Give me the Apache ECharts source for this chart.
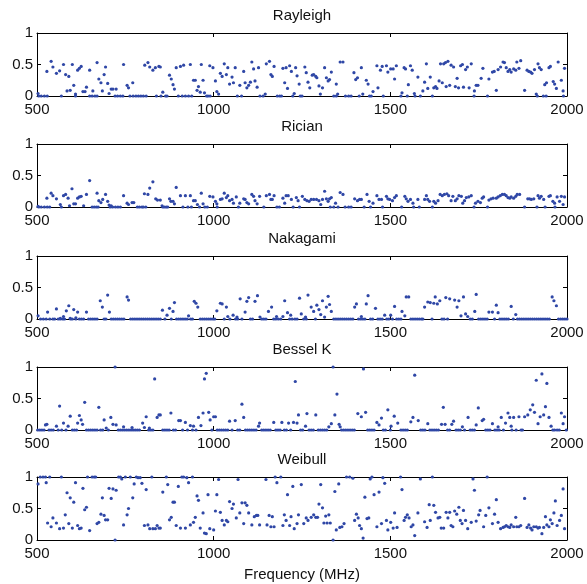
<!DOCTYPE html>
<html>
<head>
<meta charset="utf-8">
<script src="https://cdn.jsdelivr.net/npm/echarts@6/dist/echarts.min.js"></script>
<style>html,body{margin:0;padding:0;background:#fff}#c{width:587px;height:584px}</style>
</head>
<body>
<div id="c"></div>
<script>
const panelTitles = ['Rayleigh', 'Rician', 'Nakagami', 'Bessel K', 'Weibull'];
const xTicks = [500, 1000, 1500, 2000];
const yTicks = [0, 0.5, 1];
const xAxisName = 'Frequency (MHz)';

// [frequency MHz, value]
const rayleighPts = [[503,0.04],[528,0.39],[540,0.55],[545,0.46],[555,0.36],[564,0.40],[575,0.50],[581,0.34],[585,0.08],[590,0.31],[594,0.09],[600,0.50],[604,0.17],[609,0.03],[615,0.41],[620,0.44],[625,0.47],[630,0.07],[636,0.07],[640,0.14],[649,0.41],[658,0.08],[670,0.53],[675,0.27],[681,0.21],[685,0.08],[690,0.34],[694,0.46],[700,0.20],[704,0.04],[710,0.11],[715,0.11],[724,0.11],[745,0.50],[755,0.17],[759,0.13],[771,0.21],[805,0.49],[814,0.53],[819,0.46],[828,0.41],[835,0.45],[845,0.47],[849,0.46],[856,0.06],[875,0.33],[880,0.27],[885,0.18],[889,0.11],[894,0.45],[906,0.47],[915,0.49],[934,0.50],[943,0.25],[948,0.25],[953,0.09],[957,0.15],[962,0.06],[965,0.50],[970,0.25],[974,0.05],[989,0.48],[998,0.45],[1005,0.24],[1009,0.07],[1014,0.03],[1019,0.36],[1024,0.31],[1030,0.51],[1036,0.34],[1040,0.45],[1045,0.19],[1052,0.30],[1056,0.21],[1061,0.45],[1074,0.17],[1085,0.39],[1089,0.21],[1094,0.13],[1099,0.17],[1104,0.22],[1108,0.54],[1113,0.43],[1117,0.24],[1123,0.14],[1127,0.45],[1146,0.03],[1149,0.51],[1158,0.55],[1162,0.34],[1166,0.31],[1171,0.47],[1196,0.44],[1201,0.21],[1205,0.45],[1209,0.12],[1215,0.48],[1220,0.39],[1228,0.04],[1232,0.45],[1236,0.32],[1242,0.19],[1258,0.46],[1262,0.37],[1267,0.22],[1272,0.13],[1279,0.33],[1283,0.34],[1289,0.31],[1292,0.29],[1298,0.16],[1302,0.03],[1308,0.13],[1314,0.45],[1319,0.29],[1324,0.24],[1328,0.26],[1333,0.38],[1347,0.19],[1351,0.03],[1358,0.54],[1366,0.54],[1397,0.37],[1402,0.26],[1407,0.29],[1418,0.45],[1422,0.03],[1432,0.25],[1437,0.19],[1451,0.07],[1462,0.48],[1465,0.13],[1472,0.41],[1477,0.47],[1489,0.48],[1493,0.38],[1501,0.43],[1508,0.43],[1512,0.27],[1517,0.48],[1533,0.05],[1539,0.45],[1543,0.43],[1551,0.18],[1557,0.48],[1562,0.41],[1568,0.04],[1578,0.30],[1592,0.08],[1597,0.22],[1602,0.51],[1606,0.12],[1613,0.30],[1623,0.13],[1628,0.15],[1632,0.12],[1638,0.24],[1642,0.51],[1647,0.21],[1651,0.51],[1656,0.53],[1658,0.15],[1663,0.55],[1668,0.17],[1672,0.49],[1679,0.46],[1684,0.15],[1689,0.28],[1693,0.13],[1699,0.48],[1704,0.50],[1707,0.14],[1713,0.42],[1718,0.46],[1723,0.13],[1729,0.51],[1738,0.08],[1743,0.17],[1748,0.17],[1757,0.28],[1762,0.44],[1779,0.27],[1789,0.38],[1794,0.39],[1800,0.09],[1805,0.42],[1812,0.46],[1819,0.54],[1823,0.53],[1828,0.45],[1833,0.39],[1838,0.42],[1842,0.38],[1849,0.43],[1855,0.41],[1858,0.54],[1864,0.44],[1869,0.56],[1880,0.09],[1887,0.41],[1892,0.39],[1897,0.38],[1901,0.36],[1908,0.42],[1913,0.03],[1918,0.51],[1922,0.45],[1927,0.42],[1937,0.18],[1942,0.21],[1949,0.45],[1953,0.47],[1961,0.23],[1965,0.19],[1970,0.12],[1975,0.54],[1984,0.25],[1989,0.08],[1993,0.44]];
const rayleighZeros = [505,512,521,529,569,609,649,656,664,670,721,728,736,743,763,772,780,787,794,801,809,838,851,864,868,900,911,920,929,938,980,984,990,1067,1079,1131,1140,1180,1187,1192,1224,1245,1250,1340,1347,1373,1382,1389,1412,1441,1446,1480,1530,1548,1570,1585,1619,1737,1775,1916,1933,1941,1990];

const ricianPts = [[503,0.01],[528,0.14],[540,0.22],[545,0.18],[555,0.13],[566,0.04],[575,0.18],[581,0.20],[588,0.14],[592,0.02],[599,0.29],[604,0.05],[609,0.05],[615,0.14],[620,0.16],[625,0.17],[632,0.02],[640,0.20],[649,0.42],[670,0.22],[675,0.10],[681,0.07],[686,0.12],[694,0.20],[700,0.09],[704,0.03],[710,0.02],[745,0.18],[755,0.06],[759,0.04],[769,0.07],[774,0.07],[804,0.21],[814,0.20],[819,0.30],[828,0.40],[836,0.13],[841,0.11],[849,0.11],[854,0.02],[875,0.13],[879,0.09],[885,0.09],[889,0.05],[894,0.31],[906,0.18],[920,0.18],[934,0.18],[943,0.10],[948,0.10],[954,0.04],[965,0.22],[970,0.05],[989,0.17],[998,0.16],[1005,0.09],[1009,0.05],[1019,0.12],[1024,0.13],[1030,0.22],[1036,0.15],[1040,0.18],[1045,0.10],[1052,0.12],[1056,0.06],[1064,0.16],[1074,0.06],[1085,0.13],[1089,0.12],[1094,0.07],[1099,0.05],[1108,0.20],[1113,0.17],[1117,0.10],[1123,0.05],[1130,0.17],[1149,0.18],[1158,0.20],[1162,0.12],[1166,0.12],[1171,0.18],[1196,0.14],[1201,0.06],[1205,0.18],[1211,0.18],[1220,0.12],[1234,0.15],[1239,0.10],[1251,0.17],[1258,0.12],[1264,0.10],[1270,0.09],[1276,0.12],[1283,0.12],[1291,0.12],[1298,0.10],[1303,0.04],[1308,0.12],[1314,0.25],[1319,0.13],[1324,0.09],[1328,0.13],[1333,0.15],[1345,0.06],[1358,0.23],[1366,0.20],[1399,0.13],[1407,0.10],[1413,0.12],[1418,0.12],[1434,0.20],[1440,0.09],[1451,0.06],[1462,0.18],[1468,0.12],[1475,0.12],[1489,0.17],[1493,0.13],[1498,0.12],[1506,0.10],[1512,0.15],[1517,0.18],[1541,0.17],[1545,0.13],[1550,0.09],[1557,0.12],[1564,0.06],[1578,0.12],[1597,0.12],[1602,0.18],[1606,0.12],[1611,0.09],[1623,0.09],[1628,0.06],[1635,0.10],[1641,0.20],[1647,0.18],[1653,0.20],[1660,0.21],[1665,0.18],[1672,0.10],[1677,0.17],[1684,0.10],[1689,0.13],[1694,0.18],[1701,0.17],[1705,0.06],[1710,0.10],[1715,0.15],[1722,0.16],[1729,0.18],[1741,0.06],[1748,0.09],[1755,0.07],[1760,0.14],[1764,0.16],[1779,0.11],[1785,0.13],[1791,0.14],[1800,0.14],[1805,0.16],[1811,0.18],[1817,0.20],[1823,0.20],[1828,0.18],[1833,0.15],[1838,0.14],[1842,0.16],[1849,0.14],[1855,0.17],[1859,0.20],[1866,0.20],[1889,0.13],[1894,0.13],[1899,0.12],[1906,0.13],[1918,0.18],[1922,0.14],[1927,0.17],[1934,0.12],[1949,0.17],[1953,0.18],[1960,0.09],[1965,0.06],[1972,0.16],[1979,0.09],[1984,0.17],[1989,0.04],[1993,0.16]];
const ricianZeros = [505,512,521,529,536,569,656,662,668,673,707,714,722,729,736,784,790,797,801,808,856,861,866,870,913,927,937,960,975,982,1010,1070,1142,1179,1186,1225,1243,1330,1340,1352,1372,1382,1389,1426,1444,1478,1532,1566,1582,1619,1737,1775,1880,1915,1938,1966];

const nakagamiPts = [[503,0.05],[530,0.11],[555,0.16],[566,0.01],[575,0.04],[583,0.13],[590,0.21],[594,0.01],[604,0.15],[610,0.02],[615,0.11],[640,0.11],[679,0.29],[685,0.19],[700,0.38],[705,0.11],[755,0.35],[759,0.30],[855,0.14],[868,0.06],[875,0.17],[885,0.12],[889,0.26],[929,0.05],[945,0.28],[950,0.25],[955,0.19],[1009,0.13],[1019,0.25],[1024,0.24],[1036,0.19],[1040,0.04],[1055,0.06],[1066,0.03],[1075,0.32],[1089,0.11],[1094,0.28],[1099,0.34],[1117,0.28],[1124,0.37],[1131,0.03],[1155,0.12],[1164,0.19],[1178,0.04],[1196,0.04],[1201,0.29],[1209,0.10],[1218,0.06],[1243,0.33],[1248,0.08],[1260,0.03],[1267,0.38],[1276,0.19],[1283,0.12],[1292,0.22],[1298,0.15],[1303,0.07],[1308,0.29],[1314,0.03],[1319,0.19],[1324,0.36],[1328,0.23],[1333,0.12],[1399,0.19],[1404,0.24],[1418,0.04],[1432,0.24],[1437,0.37],[1458,0.17],[1484,0.06],[1501,0.06],[1512,0.20],[1533,0.12],[1541,0.05],[1545,0.35],[1552,0.35],[1597,0.19],[1606,0.27],[1613,0.26],[1623,0.25],[1627,0.35],[1633,0.24],[1640,0.29],[1657,0.34],[1668,0.32],[1682,0.30],[1689,0.19],[1694,0.29],[1700,0.05],[1707,0.35],[1713,0.08],[1719,0.04],[1739,0.12],[1743,0.39],[1779,0.11],[1789,0.11],[1800,0.22],[1805,0.10],[1842,0.20],[1855,0.07],[1958,0.35],[1963,0.29],[1970,0.21]];
const nakagamiZeros = [510,518,526,536,545,550,560,566,573,578,595,600,610,620,626,632,646,652,658,664,670,690,695,710,716,722,728,734,740,746,765,771,777,783,789,795,801,807,813,819,825,831,837,843,849,862,880,895,901,907,913,919,925,935,940,962,968,974,980,986,992,998,1003,1030,1046,1062,1068,1080,1104,1110,1136,1142,1148,1170,1176,1183,1190,1215,1222,1230,1236,1255,1262,1288,1340,1346,1352,1358,1364,1370,1376,1382,1388,1394,1410,1416,1422,1428,1444,1450,1465,1471,1477,1490,1496,1506,1518,1524,1530,1558,1564,1570,1576,1582,1588,1592,1618,1646,1652,1662,1726,1732,1750,1756,1762,1768,1774,1795,1810,1816,1822,1828,1834,1848,1860,1866,1872,1878,1884,1890,1896,1902,1908,1914,1920,1926,1932,1938,1944,1950,1976,1982,1988,1994,2000];

const besselKPts = [[524,0.08],[528,0.09],[555,0.06],[564,0.38],[575,0.11],[588,0.06],[594,0.22],[615,0.11],[620,0.23],[625,0.16],[629,0.09],[635,0.44],[675,0.36],[690,0.16],[696,0.03],[709,0.20],[715,0.09],[721,1.00],[724,0.08],[745,0.05],[769,0.04],[799,0.11],[804,0.04],[809,0.21],[818,0.03],[833,0.81],[840,0.20],[845,0.24],[849,0.24],[879,0.27],[901,0.15],[906,0.15],[920,0.12],[934,0.07],[943,0.06],[957,0.20],[964,0.07],[970,0.27],[974,0.81],[979,0.90],[986,0.28],[990,0.16],[1000,0.21],[1005,0.21],[1045,0.14],[1061,0.15],[1080,0.41],[1085,0.20],[1127,0.06],[1130,0.11],[1170,0.12],[1193,0.12],[1212,0.11],[1226,0.12],[1231,0.77],[1236,0.11],[1240,0.24],[1260,0.06],[1264,0.26],[1289,0.24],[1326,0.05],[1333,0.10],[1338,1.00],[1343,0.24],[1349,0.57],[1355,0.09],[1358,0.05],[1408,0.26],[1418,0.21],[1424,0.97],[1430,0.28],[1462,0.12],[1468,0.08],[1475,0.19],[1493,0.32],[1502,0.06],[1511,0.22],[1521,0.11],[1558,0.13],[1564,0.20],[1569,0.87],[1579,0.15],[1606,0.10],[1645,0.09],[1650,0.36],[1655,0.09],[1674,0.09],[1679,0.14],[1704,0.05],[1720,0.20],[1743,0.08],[1749,0.35],[1760,0.15],[1764,0.17],[1789,0.10],[1805,0.05],[1814,0.20],[1826,0.11],[1833,0.27],[1838,0.20],[1842,0.06],[1849,0.20],[1864,0.21],[1880,0.21],[1889,0.24],[1896,0.32],[1903,0.40],[1908,0.28],[1913,0.79],[1918,0.10],[1924,0.21],[1929,0.89],[1934,0.24],[1939,0.37],[1943,0.74],[1949,0.20],[1955,0.06],[1984,0.27],[1989,0.10],[1993,0.21]];
const besselKZeros = [502,508,514,520,534,540,546,560,570,582,600,606,612,640,646,652,658,664,670,680,686,702,730,736,742,748,754,760,766,772,778,784,790,816,822,828,856,862,868,874,886,892,912,926,940,950,995,1010,1016,1022,1028,1034,1040,1052,1068,1074,1090,1096,1102,1108,1114,1120,1136,1142,1148,1154,1160,1176,1182,1188,1200,1206,1218,1246,1252,1270,1276,1282,1296,1302,1308,1314,1320,1362,1368,1374,1380,1386,1392,1398,1436,1442,1448,1454,1480,1486,1500,1530,1536,1542,1548,1586,1592,1598,1612,1618,1624,1630,1636,1662,1668,1686,1692,1698,1710,1726,1732,1738,1770,1776,1782,1796,1802,1808,1820,1844,1856,1870,1874,1960,1965,1972,1978,1998];

const weibullPts = [[503,0.89],[509,1.00],[517,1.00],[524,1.00],[526,0.91],[530,0.27],[536,1.00],[540,0.21],[545,0.35],[555,0.27],[564,0.18],[569,1.00],[575,0.19],[580,0.40],[585,0.75],[590,0.26],[594,0.67],[600,0.19],[604,0.60],[609,0.91],[615,0.23],[620,0.18],[625,0.19],[630,0.82],[635,0.48],[640,0.52],[643,1.00],[649,0.15],[656,1.00],[662,1.00],[666,1.00],[670,0.26],[675,0.28],[681,0.41],[685,0.67],[690,0.39],[694,0.32],[700,0.32],[704,0.82],[710,0.66],[715,0.81],[721,0.00],[724,0.79],[731,1.00],[736,1.00],[740,0.97],[745,0.24],[750,1.00],[755,0.40],[759,0.50],[764,1.00],[771,0.67],[775,0.89],[781,1.00],[786,0.99],[792,0.99],[797,0.90],[804,0.23],[809,0.80],[814,0.24],[819,0.18],[825,1.00],[828,0.18],[835,0.18],[840,0.23],[845,0.19],[849,0.19],[856,0.76],[866,1.00],[870,0.88],[875,0.32],[880,0.36],[885,0.60],[889,0.60],[894,0.23],[900,0.85],[906,0.19],[910,1.00],[915,1.00],[920,0.19],[924,0.99],[929,0.91],[934,0.24],[940,1.00],[943,0.28],[948,0.36],[953,0.70],[957,0.63],[962,0.19],[970,0.43],[974,0.11],[979,0.10],[984,0.72],[989,0.18],[1000,0.16],[1005,0.46],[1009,0.72],[1014,0.96],[1019,0.44],[1024,0.31],[1030,0.24],[1036,0.31],[1040,0.29],[1045,0.61],[1052,0.50],[1056,0.57],[1064,0.35],[1069,0.96],[1074,0.43],[1080,0.59],[1085,0.26],[1089,0.59],[1094,0.55],[1099,0.43],[1108,0.24],[1115,0.37],[1121,0.39],[1125,0.39],[1130,0.24],[1148,0.96],[1151,0.24],[1157,0.39],[1162,0.21],[1166,0.37],[1171,0.21],[1174,1.00],[1179,0.91],[1190,1.00],[1196,0.23],[1200,0.40],[1205,0.31],[1209,0.72],[1215,0.23],[1219,0.37],[1224,0.85],[1228,0.18],[1236,0.26],[1240,0.40],[1248,0.88],[1255,0.26],[1262,0.35],[1267,0.31],[1276,0.36],[1283,0.40],[1289,0.36],[1294,0.36],[1298,0.57],[1303,0.88],[1308,0.51],[1312,0.27],[1317,0.38],[1321,0.27],[1326,0.40],[1330,0.27],[1338,0.00],[1343,0.77],[1347,0.16],[1354,0.89],[1357,0.20],[1363,0.21],[1369,0.26],[1376,1.00],[1385,1.00],[1394,0.98],[1399,0.31],[1404,0.41],[1409,0.35],[1413,0.23],[1418,0.18],[1423,0.03],[1428,0.68],[1434,0.34],[1439,0.35],[1443,0.97],[1448,1.00],[1454,0.72],[1462,0.21],[1468,0.76],[1475,0.26],[1479,0.99],[1484,0.90],[1489,0.31],[1493,0.16],[1501,0.28],[1508,0.19],[1512,0.43],[1519,0.20],[1529,1.00],[1533,0.80],[1539,0.31],[1543,0.36],[1548,0.40],[1553,0.35],[1559,0.21],[1564,0.24],[1569,0.07],[1578,0.43],[1585,0.97],[1597,0.29],[1604,0.20],[1610,0.56],[1613,0.31],[1619,1.00],[1623,0.55],[1628,0.44],[1635,0.35],[1640,0.36],[1644,0.19],[1651,0.19],[1658,0.44],[1663,0.35],[1668,0.44],[1672,0.23],[1677,0.21],[1682,0.46],[1688,0.41],[1694,0.52],[1698,0.31],[1703,0.26],[1707,0.47],[1713,0.31],[1719,0.18],[1729,0.28],[1734,0.97],[1738,0.79],[1743,0.30],[1750,0.40],[1754,0.47],[1764,0.21],[1770,0.39],[1774,1.00],[1779,0.51],[1789,0.26],[1795,0.41],[1800,0.64],[1805,0.28],[1812,0.18],[1819,0.20],[1823,0.21],[1828,0.23],[1833,0.21],[1838,0.20],[1842,0.24],[1849,0.21],[1855,0.36],[1858,0.21],[1864,0.21],[1869,0.23],[1880,0.66],[1887,0.20],[1892,0.24],[1897,0.19],[1901,0.16],[1906,0.21],[1913,0.21],[1918,0.19],[1922,0.20],[1929,0.10],[1934,0.20],[1939,0.37],[1943,0.24],[1949,0.21],[1953,0.32],[1958,0.26],[1963,0.43],[1967,0.62],[1972,0.23],[1979,0.31],[1984,0.39],[1989,0.81],[1993,0.18]];
const weibullZeros = [];

const panels = [
  [rayleighPts, rayleighZeros],
  [ricianPts, ricianZeros],
  [nakagamiPts, nakagamiZeros],
  [besselKPts, besselKZeros],
  [weibullPts, weibullZeros]
];

const gridTops = [33, 144, 256, 367, 477];
const gridH = 63;
const gridL = 37, gridR = 20;
const FONT = '"Liberation Sans", Arial, Helvetica, sans-serif';
const DOT = '#2f47a6';

const chart = echarts.init(document.getElementById('c'), null, {renderer: 'canvas'});
const grids = [], xAxes = [], yAxes = [], series = [], graphics = [];

panels.forEach((p, i) => {
  grids.push({left: gridL, right: gridR, top: gridTops[i], height: gridH, containLabel: false});
  const axLine = {show: true, onZero: false, lineStyle: {color: '#000', width: 1}};
  const tick = {show: true, inside: true, length: 4, lineStyle: {color: '#000', width: 1}};
  xAxes.push({gridIndex: i, type: 'value', position: 'bottom', min: xTicks[0], max: xTicks[xTicks.length - 1], interval: 500,
    axisLine: axLine, axisTick: tick, splitLine: {show: false},
    axisLabel: {show: true, color: '#111', fontSize: 15, fontFamily: FONT, margin: 6,
      formatter: v => String(v), showMinLabel: true, showMaxLabel: true}});
  xAxes.push({gridIndex: i, type: 'value', position: 'top', min: xTicks[0], max: xTicks[xTicks.length - 1], interval: 500,
    axisLine: axLine, axisTick: tick, splitLine: {show: false}, axisLabel: {show: false}});
  yAxes.push({gridIndex: i, type: 'value', position: 'left', min: yTicks[0], max: yTicks[yTicks.length - 1], interval: 0.5,
    axisLine: axLine, axisTick: tick, splitLine: {show: false},
    axisLabel: {show: true, color: '#111', fontSize: 15, fontFamily: FONT, margin: 4,
      formatter: v => String(v)}});
  yAxes.push({gridIndex: i, type: 'value', position: 'right', min: yTicks[0], max: yTicks[yTicks.length - 1], interval: 0.5,
    axisLine: axLine, axisTick: tick, splitLine: {show: false}, axisLabel: {show: false}});
  const data = p[0].concat(p[1].map(f => [f, 0]));
  series.push({type: 'scatter', xAxisIndex: 2 * i, yAxisIndex: 2 * i, data: data,
    symbol: 'circle', symbolSize: 3.2, clip: false, itemStyle: {color: DOT, opacity: 1}, z: 3, silent: true});
  graphics.push({type: 'text', x: (gridL + 587 - gridR) / 2, y: gridTops[i] - 17,
    style: {text: panelTitles[i], fill: '#111', font: '15px ' + FONT, align: 'center', verticalAlign: 'middle',
      textAlign: 'center', textVerticalAlign: 'middle'}});
});
graphics.push({type: 'text', x: (gridL + 587 - gridR) / 2, y: 575,
  style: {text: xAxisName, fill: '#111', font: '15px ' + FONT, align: 'center', verticalAlign: 'middle',
    textAlign: 'center', textVerticalAlign: 'middle'}});

chart.setOption({
  animation: false,
  backgroundColor: '#fff',
  grid: grids,
  xAxis: xAxes,
  yAxis: yAxes,
  series: series,
  graphic: graphics
});
</script>
</body>
</html>
